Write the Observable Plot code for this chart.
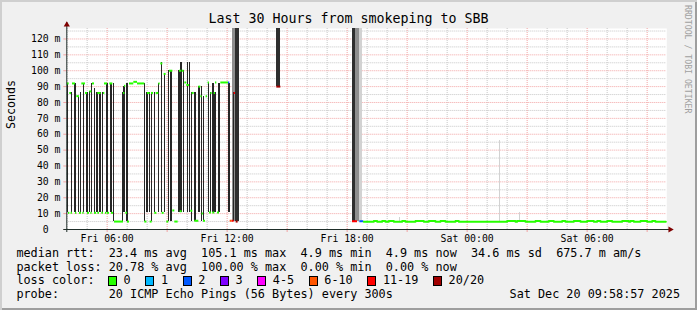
<!DOCTYPE html>
<html>
<head>
<meta charset="utf-8">
<script src="https://cdn.jsdelivr.net/npm/d3@7"></script>
<script src="https://cdn.jsdelivr.net/npm/@observablehq/plot@0.6"></script>
<style>
html,body{margin:0;padding:0;background:#f0f0f0;}
#wrap{position:relative;width:697px;height:310px;background:#f0f0f0;overflow:hidden;
  font-family:"DejaVu Sans Mono",monospace;color:#000;
  box-shadow: inset 2px 2px 0 #cfcfcf, inset -2px -2px 0 #9e9e9e;}
#chart{position:absolute;left:0;top:0;}
#title{position:absolute;left:0;top:11.4px;width:697px;text-align:center;font-size:13.3px;line-height:16px;white-space:pre;}
.leg{position:absolute;left:16.4px;font-size:11.8px;line-height:13.7px;white-space:pre;}
.box{position:absolute;width:7px;height:8px;border:1px solid #000;}
.lab{position:absolute;font-size:11.8px;line-height:13.7px;white-space:pre;}
#mark{position:absolute;left:683px;top:5px;font-size:8.2px;line-height:10px;color:#a0a0a0;writing-mode:vertical-rl;white-space:pre;}
</style>
</head>
<body>
<div id="wrap">
  <div id="chart"></div>
  <div id="title"></div>
  <div id="mark">RRDTOOL / TOBI OETIKER</div>
</div>
<script>
// ---------------- data (minutes since Fri Dec 19 2025 00:00, values in ms) ----------------
const titleText = "Last 30 Hours from smokeping to SBB";
const lossLabels = ["0", "1", "2", "3", "4-5", "6-10", "11-19", "20/20"];
const lossColors = ["#26ff00", "#00b8ff", "#0059ff", "#7e00ff", "#ff00ff", "#ff5500", "#ff0000", "#a10000"];

// smoke bars (one 5-minute step each)
const smokeMin = [243,254,263,267,275,281,290,299,303,308,314,323,329,333,338,342,348,359,363,371,375,380,407,412,421,473,481,488,494,503,515,524,533,545,553,577,583,590,603,608,614,625,637,644,650,665,671,679,685,697,727,740];
const smokeLo  = [10.5,10.5,10.5,10.5,10.5,10.5,10.5,10.5,10.5,10.5,10.5,10.5,10.5,10.5,10.5,10.5,10.5,10.5,10.5,10.5,10.5,5,5,10.5,5,5,10.5,10.5,5,10.5,10.5,10.5,10.5,5,5,10.5,10.5,10.5,10.5,10.5,5,5,10.5,5,5,10.5,10.5,10.5,10.5,10.5,10.5,5];
const smokeHi  = [92,86,92,92,84,86,92,86,86,87,92,89,86,86,86,86,86,92,92,92,92,92,86,90,92,92,86,86,86,86,92,105,98,100,100,100,105,100,105,105,86,86,90,90,84,92,86,92,86,92,92,86];

// wide smoke bands (pings beyond the top of the graph)
const bandStart = [735, 745, 868, 1095, 1105, 1117, 1237, 1537, 1597];
const bandEnd   = [745, 757, 880, 1105, 1117, 1125, 1240, 1540, 1600];
const bandLo    = [5, 5, 90, 5, 5, 5, 5, 5, 5];
const bandHi    = [130, 130, 130, 130, 130, 130, 7.5, 56, 10.5];
const bandDensity = ["medium", "dense", "dense", "dense", "medium", "light", "light", "light", "light"];

// median rtt blocks, coloured by loss
const medStart = [240,244,248,252,256,265,269,277,284,287,295,301,308,311,316,322,332,332,344,349,352,355,361,368,373,382,409,412,416,421,427,440,451,473,481,489,493,503,507,515,521,525,531,539,547,557,563,577,579,585,593,599,611,615,623,635,641,645,649,657,663,667,671,677,681,685,691,701,724,729,735,741,747,869,1096,1118];
const medEnd   = [246,248,253,256,265,269,277,283,295,291,301,307,314,315,322,328,342,337,349,353,361,359,367,377,379,409,413,416,421,427,440,451,473,479,489,495,499,509,515,519,527,531,537,545,557,563,573,583,585,591,599,607,617,621,635,641,645,649,655,661,667,673,675,683,685,689,697,724,728,735,741,745,753,881,1111,1130];
const medValue = [92,10.5,86,10.5,92,10.5,84,10.5,92,10.5,86,10.5,87,10.5,92,10.5,86,10.5,10.5,86,92,10.5,10.5,92,10.5,5,86,90.5,10.5,5,92,93,92,5,86,5,86,10.5,86,92,104.6,10.5,98,5,100,12,5,100,11.5,100,92.6,91,11.8,86,5.5,90,84,10,5.5,84,92.6,10.7,86,10.7,86,92.6,10.7,92.6,92.6,5.5,5.5,86,5,90,5.2,5.2];
const medLoss  = ["0","0","0","0","0","0","0","0","0","0","0","0","0","0","0","0","0","0","0","0","0","0","0","0","0","0","0","0","0","0","0","0","0","0","0","0","0","0","0","0","0","0","0","0","0","0","0","0","0","0","0","0","0","0","0","0","0","0","0","0","0","0","0","0","0","0","0","0","2","6-10","11-19","11-19","20/20","20/20","11-19","2"];

// steady median after the outage (loss 0)
const baseMin = [1130,1160,1170,1185,1195,1205,1220,1245,1255,1285,1310,1325,1345,1360,1375,1405,1415,1560,1585,1590,1615,1645,1660,1685,1700,1725,1735,1760,1780,1800,1820,1830,1840,1860,1875,1905,1925,1930,1940,1960,1980,1995,2005,2036];
const baseMs  = [4.9,5.4,4.9,5.4,4.9,5.4,4.9,5.4,4.9,5.4,4.9,5.4,4.9,5.4,4.9,5.4,4.9,5.4,4.9,5.4,4.9,5.4,4.9,5.4,4.9,5.4,4.9,5.4,4.9,5.4,4.9,5.4,4.9,5.4,4.9,5.4,4.9,5.4,4.9,5.4,4.9,5.4,4.9,4.9];

// axes
const yTicks = [0,10,20,30,40,50,60,70,80,90,100,110,120];
const yMinorGrid = [5,15,25,35,45,55,65,75,85,95,105,115,125];
const xLabelMin = [360, 720, 1080, 1440, 1800];
const xTickLabels = ["Fri 06:00", "Fri 12:00", "Fri 18:00", "Sat 00:00", "Sat 06:00"];
const xMajorMin = [360,540,720,900,1080,1260,1440,1620,1800,1980];
const xMinorMin = [240,300,420,480,600,660,780,840,960,1020,1140,1200,1320,1380,1500,1560,1680,1740,1860,1920];
const rangeMin = [238.95, 2038.95];
const yRange = [0, 126.6];

// legend text
const rttStats  = ["23.4 ms avg", "105.1 ms max", "4.9 ms min", "4.9 ms now", "34.6 ms sd", "675.7 m am/s"];
const lossStats = ["20.78 % avg", "100.00 % max", "0.00 % min", "0.00 % now"];
const probeText = "20 ICMP Echo Pings (56 Bytes) every 300s";
const stampText = "Sat Dec 20 09:58:57 2025";

// ---------------- build ----------------
const DAY0 = Date.UTC(2025, 11, 19);
const T = m => new Date(DAY0 + m * 60000);
const lossColor = new Map(lossLabels.map((l, i) => [l, lossColors[i]]));
const shade = {dense: "#2e2e2e", medium: "#8e8e8e", light: "#d2d2d2"};
const labelByTime = new Map(xLabelMin.map((m, i) => [+T(m), xTickLabels[i]]));

const smoke = smokeMin.map((m, i) => ({m, lo: smokeLo[i], hi: smokeHi[i]}));
const bands = bandStart.map((s, i) => ({s, e: bandEnd[i], lo: bandLo[i], hi: bandHi[i], d: bandDensity[i]}));
const med = medStart.map((s, i) => ({s, e: medEnd[i], v: medValue[i], loss: medLoss[i]}));
const base = baseMin.map((m, i) => ({t: T(m), v: baseMs[i]}));

const xStart = T(rangeMin[0]), xEnd = T(rangeMin[1]);
const gridPink = "#f2a4a4", gridGray = "#c6c6c6";

const chart = Plot.plot({
  width: 697, height: 248,
  marginTop: 28, marginBottom: 19, marginLeft: 66.3, marginRight: 30.7,
  style: {background: "transparent", fontFamily: "DejaVu Sans Mono", fontSize: "9.8px", color: "#000", overflow: "visible"},
  x: {type: "utc", domain: [xStart, xEnd], label: null},
  y: {domain: yRange, label: null, clamp: true},
  color: {type: "identity"},
  marks: [
    Plot.frame({fill: "white", stroke: null}),
    Plot.ruleY(yMinorGrid, {stroke: gridGray, strokeDasharray: "1,1"}),
    Plot.ruleX(xMinorMin.map(T), {stroke: gridGray, strokeDasharray: "1,1"}),
    Plot.ruleY(yTicks.filter(v => v > 0), {stroke: gridPink, strokeDasharray: "1,1"}),
    Plot.ruleX(xMajorMin.map(T), {stroke: gridPink, strokeDasharray: "1,1"}),
    Plot.ruleY(yTicks, {x1: xStart, x2: xStart, insetLeft: -3, stroke: gridPink}),
    Plot.ruleX(xMajorMin.map(T), {y1: 0, y2: 0, insetBottom: -3, stroke: gridPink}),
    Plot.rect(bands, {x1: d => T(d.s), x2: d => T(d.e), y1: "lo", y2: "hi", fill: d => shade[d.d], shapeRendering: "crispEdges"}),
    Plot.rect(smoke, {x1: d => T(d.m - 1.6), x2: d => T(d.m + 1.6), y1: "lo", y2: "hi", fill: "#262626", shapeRendering: "crispEdges"}),
    Plot.ruleY(med, {y: "v", x1: d => T(d.s), x2: d => T(d.e), stroke: d => lossColor.get(d.loss), strokeWidth: 2}),
    Plot.line(base, {x: "t", y: "v", curve: "step-after", stroke: lossColors[0], strokeWidth: 2}),
    Plot.ruleY([0], {stroke: "#1e2d28", insetLeft: -3, insetRight: -4}),
    Plot.ruleX([xStart], {stroke: "#1e2d28", insetTop: -6, insetBottom: -3}),
    Plot.dot([{x: xStart, y: yRange[1]}], {x: "x", y: "y", symbol: "triangle", r: 2.3, fill: "#7f0000", stroke: null, dy: -3.7}),
    Plot.dot([{x: xEnd, y: 0}], {x: "x", y: "y", symbol: "triangle", r: 2.3, fill: "#7f0000", stroke: null, rotate: 90, dx: 3.4}),
    Plot.axisY({ticks: yTicks, tickSize: 0, tickPadding: 6.3, tickFormat: d => d === 0 ? "0\u00a0\u00a0" : `${d} m`}),
    Plot.axisX({ticks: xLabelMin.map(T), tickSize: 0, tickPadding: 5.5, tickFormat: d => labelByTime.get(+d)}),
    Plot.text(["Seconds"], {frameAnchor: "left", dx: -56, rotate: -90, fontSize: 11.6})
  ]
});
document.getElementById("chart").appendChild(chart);
document.getElementById("title").textContent = titleText;

// legend
const wrap = document.getElementById("wrap");
const top0 = 247, lh = 13.7, cw = 7.1;
function line(txt, row) {
  const d = document.createElement("div");
  d.className = "leg"; d.style.top = (top0 + row * lh) + "px"; d.textContent = txt;
  wrap.appendChild(d); return d;
}
line("median rtt:  " + rttStats.join("  "), 0);
line("packet loss: " + lossStats.join("  "), 1);
line("loss color:", 2);
line("probe:       " + probeText, 3);
const st = document.createElement("div");
st.className = "leg"; st.style.left = "auto"; st.style.right = "17px"; st.style.top = (top0 + 3 * lh) + "px";
st.textContent = stampText; wrap.appendChild(st);
let bx = 108;
lossLabels.forEach((lab, i) => {
  const b = document.createElement("div");
  b.className = "box"; b.style.left = bx + "px"; b.style.top = "276px"; b.style.background = lossColors[i];
  wrap.appendChild(b);
  const t = document.createElement("div");
  t.className = "lab"; t.style.left = (bx + 15.6) + "px"; t.style.top = (top0 + 2 * lh) + "px"; t.textContent = lab;
  wrap.appendChild(t);
  bx += 15.6 + lab.length * cw + 14.6;
});
</script>
</body>
</html>
